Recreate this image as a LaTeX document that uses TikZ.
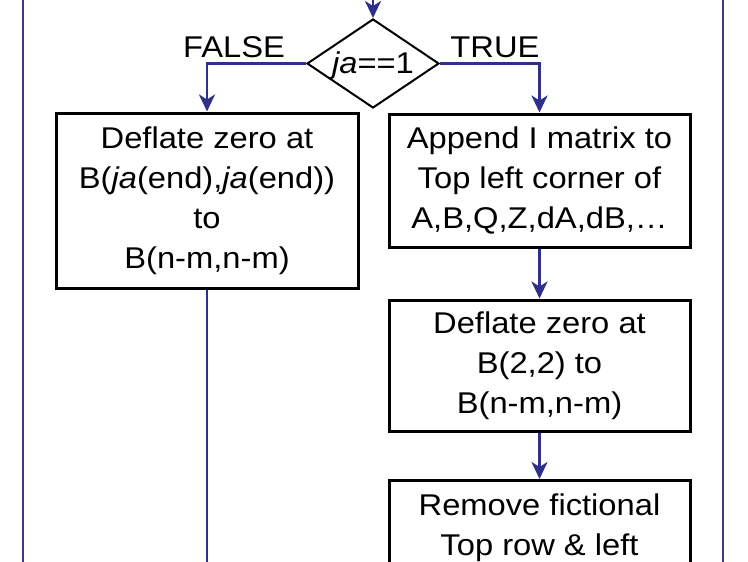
\documentclass[tikz,border=0pt]{standalone}
\usepackage{fontspec}
\setmainfont[FakeStretch=1.09]{Liberation Sans}
\usetikzlibrary{shapes.geometric,arrows.meta}
\definecolor{connblue}{RGB}{48,48,140}
\definecolor{frameblue}{RGB}{62,60,128}
\begin{document}
\begin{tikzpicture}[x=1pt,y=-1pt,
  every node/.style={font=\fontsize{30}{40}\selectfont, inner sep=0pt},
  procbox/.style={draw=black, line width=3pt, align=center, minimum width=301pt},
  decision/.style={draw=black, line width=2pt, diamond, minimum width=132pt, minimum height=89pt},
  conn/.style={draw=connblue, line width=2.8pt, -{Stealth[length=17pt,width=16pt,inset=5pt]}},
  flow/.style={draw=connblue, line width=2.8pt},
  frameline/.style={draw=frameblue, line width=2pt}]
\clip (0,0) rectangle (748,562);
\fill[white] (0,0) rectangle (748,562);
% frame sides
\draw[frameline] (23,-5) -- (23,600);
\draw[frameline] (723,-5) -- (723,600);
% decision
\node[decision] (d) at (373,63.5) {};
\node[anchor=base] (dt) at (373,73) {\textit{ja}==1};
\node[anchor=base] (fl) at (234,57) {FALSE};
\node[anchor=base] (tl) at (495,57) {TRUE};
% boxes
\node[procbox, minimum width=302pt, minimum height=175pt] (bl) at (207,200.5)
  {Deflate zero at\\B(\textit{ja}(end),\textit{ja}(end))\\to\\B(n-m,n-m)};
\node[procbox, minimum height=133pt] (br1) at (539.5,180.5)
  {Append I matrix to\\Top left corner of\\A,B,Q,Z,dA,dB,…};
\node[procbox, minimum height=131pt] (br2) at (539.5,365.5)
  {Deflate zero at\\B(2,2) to\\B(n-m,n-m)};
\node[procbox, minimum height=95pt, anchor=north] (br3) at (539.5,479)
  {Remove fictional\\Top row \& left};
% connectors
\coordinate (top) at (373,-10);
\coordinate (ldown) at (207,600);
\draw[conn] (top) -- (d.north);
\draw[conn] (d.west) -| (bl.north);
\draw[conn] (d.east) -| (br1.north);
\draw[conn] (br1.south) -- (br2.north);
\draw[conn] (br2.south) -- (br3.north);
\draw[flow] (bl.south) -- (ldown);
\end{tikzpicture}
\end{document}
